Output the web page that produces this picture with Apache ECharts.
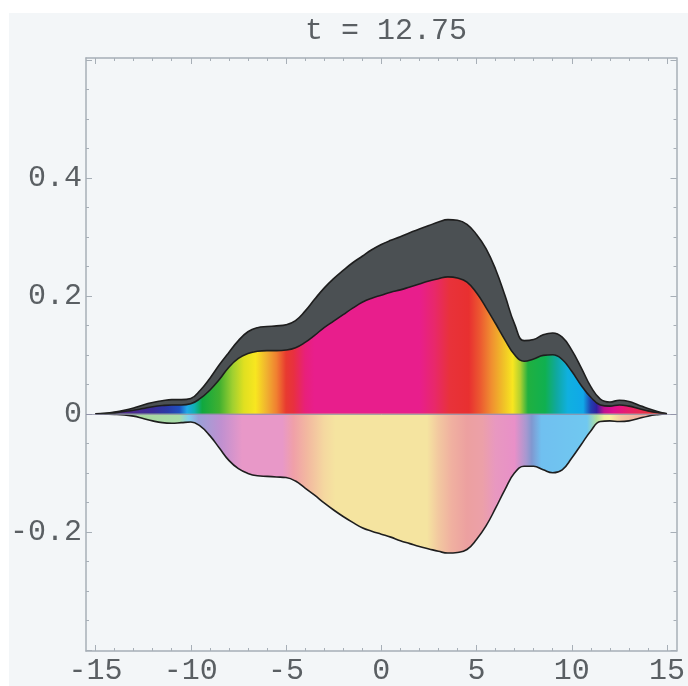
<!DOCTYPE html>
<html>
<head>
<meta charset="utf-8">
<script src="https://cdn.jsdelivr.net/npm/echarts@6/dist/echarts.min.js"></script>
<style>
  html, body { margin: 0; padding: 0; background: #ffffff; }
  #panel { position: absolute; left: 9px; top: 13px; width: 679px; height: 673px; background: #f3f6f8; }
  #chart { position: absolute; left: 0; top: 0; width: 688px; height: 686px; }
</style>
</head>
<body>
<div id="panel"></div>
<div id="chart"></div>
<script>
// ---- data ----
const titleText = 't = 12.75';
const xs = [-15, -14.5, -14, -13.5, -13, -12.5, -12, -11.5, -11, -10.5, -10, -9.5, -9, -8.5, -8, -7.5, -7, -6.5, -6, -5.5, -5, -4.5, -4, -3.5, -3, -2.5, -2, -1.5, -1, -0.5, 0, 0.5, 1, 1.5, 2, 2.5, 3, 3.5, 4, 4.5, 5, 5.5, 6, 6.5, 7, 7.5, 8, 8.5, 9, 9.5, 10, 10.5, 11, 11.5, 12, 12.5, 13, 13.5, 14, 14.5, 15];
const outerTop = [0, 0.001, 0.003, 0.006, 0.010, 0.015, 0.019, 0.022, 0.024, 0.024, 0.026, 0.040, 0.060, 0.083, 0.104, 0.124, 0.139, 0.146, 0.148, 0.149, 0.151, 0.158, 0.174, 0.194, 0.213, 0.229, 0.243, 0.256, 0.267, 0.278, 0.287, 0.294, 0.300, 0.307, 0.313, 0.319, 0.325, 0.329, 0.328, 0.321, 0.304, 0.280, 0.245, 0.200, 0.152, 0.124, 0.126, 0.134, 0.137, 0.130, 0.108, 0.078, 0.046, 0.025, 0.020, 0.023, 0.021, 0.015, 0.009, 0.004, 0];
const innerTop = [0, 0.0005, 0.002, 0.004, 0.006, 0.009, 0.012, 0.014, 0.015, 0.015, 0.017, 0.026, 0.040, 0.058, 0.079, 0.094, 0.102, 0.106, 0.107, 0.107, 0.108, 0.112, 0.121, 0.133, 0.146, 0.157, 0.168, 0.179, 0.189, 0.196, 0.201, 0.206, 0.210, 0.215, 0.220, 0.225, 0.229, 0.232, 0.230, 0.223, 0.205, 0.180, 0.153, 0.125, 0.100, 0.089, 0.093, 0.099, 0.100, 0.092, 0.072, 0.048, 0.028, 0.015, 0.013, 0.015, 0.013, 0.009, 0.005, 0.002, 0];
const lowerPart = [0, -0.0005, -0.001, -0.002, -0.004, -0.008, -0.012, -0.015, -0.016, -0.015, -0.014, -0.021, -0.037, -0.058, -0.079, -0.093, -0.101, -0.105, -0.106, -0.107, -0.108, -0.114, -0.126, -0.138, -0.151, -0.163, -0.174, -0.184, -0.193, -0.199, -0.204, -0.209, -0.215, -0.220, -0.225, -0.229, -0.233, -0.236, -0.235, -0.230, -0.213, -0.190, -0.160, -0.128, -0.100, -0.089, -0.089, -0.095, -0.100, -0.095, -0.075, -0.052, -0.029, -0.013, -0.012, -0.013, -0.012, -0.008, -0.004, -0.0015, 0];

// phase colours along x (upper colored band)
const upperColorX = [-15, -13, -12, -11.2, -10.6, -10.2, -9.8, -9.4, -8.5, -7.8, -7.2, -6.6, -6.0, -5.5, -5.0, -4.6, -4.0, -3.5, 2.0, 2.8, 3.6, 4.6, 5.2, 5.8, 6.4, 6.9, 7.3, 7.7, 8.6, 9.2, 9.8, 10.6, 11.0, 11.3, 11.7, 12.2, 13.0, 14.0, 15];
const upperColors = ['#5a2a8a', '#4a2890', '#3a2c98', '#2a3aa8', '#2050c0', '#20a8e8', '#10b0b0', '#10a840', '#40b030', '#a0d030', '#e0e020', '#f8e620', '#f0b030', '#f08030', '#e83a30', '#e83040', '#e8207a', '#e81e8c', '#e81e8c', '#e8286a', '#e8323a', '#e83030', '#ec5a30', '#f09030', '#f0c028', '#f8e620', '#b0d030', '#20b040', '#10b050', '#10a8a0', '#10b0e0', '#10a8e8', '#2040b0', '#3020a0', '#c01090', '#e01090', '#e8206a', '#e83040', '#e83030'];
// pastel colours along x (lower band)
const lowerColorX = [-15, -12.5, -10.6, -10.1, -9.6, -8.4, -7.3, -5.2, -4.6, -3.9, -3.0, -2.4, 2.4, 3.0, 3.7, 4.5, 5.3, 6.0, 7.0, 7.6, 7.9, 8.4, 10.8, 11.3, 11.7, 12.0, 12.6, 13.5, 15];
const lowerColors = ['#a8d8a0', '#a8d8a0', '#a8dca8', '#80d0f0', '#9aa0d8', '#c090d0', '#e898c8', '#e898c8', '#f0a0a8', '#f2b8a0', '#f5d8a0', '#f5e4a0', '#f5e4a0', '#f2c8a0', '#f0b0a0', '#eca0a0', '#eca0a8', '#e898c0', '#e890c8', '#a898d0', '#8098d0', '#70c0f0', '#70c8f0', '#b0e0a0', '#f0f0a0', '#f8f0a0', '#f5c8a0', '#f0b0a0', '#f0a8a0'];

const xMajor = [-15, -10, -5, 0, 5, 10, 15];
const xMinor = [-15, -14, -13, -12, -11, -10, -9, -8, -7, -6, -5, -4, -3, -2, -1, 0, 1, 2, 3, 4, 5, 6, 7, 8, 9, 10, 11, 12, 13, 14, 15];
const yMajor = [-0.4, -0.2, 0, 0.2, 0.4, 0.6];
const yLabels = [-0.2, 0, 0.2, 0.4];
const yMinor = [-0.4, -0.35, -0.3, -0.25, -0.2, -0.15, -0.1, -0.05, 0, 0.05, 0.1, 0.15, 0.2, 0.25, 0.3, 0.35, 0.4, 0.45, 0.5, 0.55, 0.6];

// ---- chart ----
const X_MIN = -15.5, X_MAX = 15.5, Y_MIN = -0.402, Y_MAX = 0.603;
const FONT = 'Liberation Mono';
const TXT = '#5a5f63';
const FRAME = '#a7afb7';

function pairs(ys) { return xs.map((x, i) => [x, ys[i]]); }
function grad(cx, cc) {
  const x0 = xs[0], x1 = xs[xs.length - 1];
  return new echarts.graphic.LinearGradient(0, 0, 1, 0,
    cx.map((x, i) => ({ offset: Math.min(1, Math.max(0, (x - x0) / (x1 - x0))), color: cc[i] })));
}

function xAx(pos, ticks, len, line, labels) {
  return {
    type: 'value', min: X_MIN, max: X_MAX, position: pos,
    axisLine: { show: line, onZero: false, lineStyle: { color: FRAME, width: 1.5 } },
    axisTick: { show: true, inside: true, length: len, customValues: ticks, lineStyle: { color: FRAME, width: 1 } },
    axisLabel: labels ? { show: true, customValues: labels, margin: 5, fontFamily: FONT, fontSize: 30, color: TXT } : { show: false },
    splitLine: { show: false }
  };
}
function yAx(pos, ticks, len, line, labels) {
  return {
    type: 'value', min: Y_MIN, max: Y_MAX, position: pos,
    axisLine: { show: line, onZero: false, lineStyle: { color: FRAME, width: 1.5 } },
    axisTick: { show: true, inside: true, length: len, customValues: ticks, lineStyle: { color: FRAME, width: 1 } },
    axisLabel: labels ? { show: true, customValues: labels, margin: 4, fontFamily: FONT, fontSize: 30, color: TXT,
      formatter: v => String(Math.round(v * 10) / 10) } : { show: false },
    splitLine: { show: false }
  };
}

const lineCommon = {
  type: 'line', xAxisIndex: 0, yAxisIndex: 0, smooth: 0.45,
  showSymbol: false, symbol: 'none', silent: true,
  lineStyle: { color: '#1e1e1e', width: 1.6 }
};

const chart = echarts.init(document.getElementById('chart'), null, { renderer: 'canvas' });
chart.setOption({
  animation: false,
  backgroundColor: 'transparent',
  title: {
    text: titleText, left: 381, top: 11, textAlign: 'center',
    textStyle: { fontFamily: FONT, fontSize: 30, fontWeight: 'normal', color: TXT }
  },
  grid: { left: 86, top: 58, width: 601, height: 599 },
  xAxis: [
    xAx('bottom', xMajor, 6, true, xMajor),
    xAx('bottom', xMinor, 3, false, null),
    xAx('top', xMajor, 6, true, null),
    xAx('top', xMinor, 3, false, null)
  ],
  yAxis: [
    yAx('left', yMajor, 6, true, yLabels),
    yAx('left', yMinor, 3, false, null),
    yAx('right', yMajor, 6, true, null),
    yAx('right', yMinor, 3, false, null)
  ],
  series: [
    Object.assign({}, lineCommon, {
      name: 'outer', data: pairs(outerTop), z: 2,
      areaStyle: { color: '#4b5053', opacity: 1, origin: 'auto' }
    }),
    Object.assign({}, lineCommon, {
      name: 'inner', data: pairs(innerTop), z: 3,
      areaStyle: { color: grad(upperColorX, upperColors), opacity: 1, origin: 'auto' }
    }),
    Object.assign({}, lineCommon, {
      name: 'lower', data: pairs(lowerPart), z: 4,
      areaStyle: { color: grad(lowerColorX, lowerColors), opacity: 1, origin: 'auto' },
      markLine: {
        silent: true, symbol: 'none', label: { show: false },
        lineStyle: { color: 'rgba(140,140,165,0.75)', width: 1, type: 'solid' },
        data: [{ yAxis: 0 }]
      }
    })
  ]
});
</script>
</body>
</html>
